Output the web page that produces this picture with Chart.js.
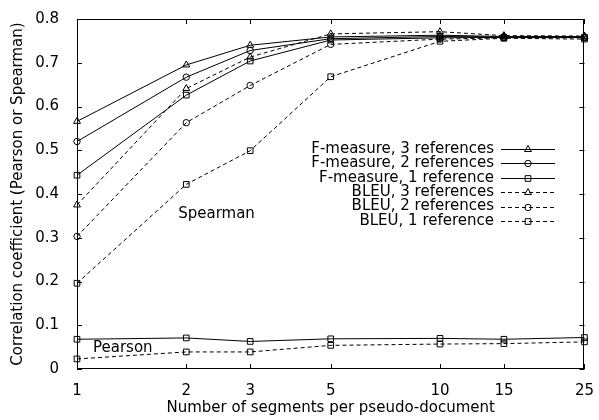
<!DOCTYPE html>
<html><head><meta charset="UTF-8"><title>Correlation coefficient vs segments per pseudo-document</title>
<style>
body { margin: 0; background: #fff; }
#wrap { width: 599px; height: 420px; }
</style>
<script src="https://cdn.jsdelivr.net/npm/chart.js"></script>
</head>
<body>
<div id="wrap"><canvas id="corrChart" width="599" height="420"></canvas></div>
<script>
// x values (number of segments per pseudo-document), log spaced on the axis
const segments = [1, 2, 3, 5, 10, 15, 25];
const yTickValues = [0, 0.1, 0.2, 0.3, 0.4, 0.5, 0.6, 0.7, 0.8];

// Spearman correlations
const fmeasure3 = [0.566, 0.695, 0.740, 0.759, 0.763, 0.760, 0.760];
const fmeasure2 = [0.520, 0.667, 0.728, 0.755, 0.760, 0.759, 0.759];
const fmeasure1 = [0.443, 0.626, 0.704, 0.752, 0.757, 0.758, 0.758];
const bleu3 = [0.375, 0.641, 0.713, 0.766, 0.771, 0.762, 0.761];
const bleu2 = [0.303, 0.563, 0.648, 0.742, 0.754, 0.757, 0.757];
const bleu1 = [0.196, 0.422, 0.499, 0.668, 0.749, 0.756, 0.754];

// Pearson correlations (1 reference)
const pearsonF1 = [0.068, 0.071, 0.063, 0.069, 0.070, 0.068, 0.072];
const pearsonB1 = [0.023, 0.039, 0.039, 0.054, 0.057, 0.058, 0.062];

const legendLabels = [
    'F-measure, 3 references',
    'F-measure, 2 references',
    'F-measure, 1 reference',
    'BLEU, 3 references',
    'BLEU, 2 references',
    'BLEU, 1 reference'
];

const DASH = [4, 3];

function serie(values, dashed, marker, label) {
    return {
        label: label,
        data: segments.map((s, i) => ({ x: s, y: values[i] })),
        borderColor: '#000',
        borderWidth: 1,
        borderDash: dashed ? DASH : [],
        pointStyle: marker,
        pointRadius: marker === 'circle' ? 3.2 : 4,
        pointBorderWidth: 1,
        pointBorderColor: '#000',
        pointBackgroundColor: 'rgba(0,0,0,0)',
        fill: false,
        clip: false,
        inLegend: !!label
    };
}

Chart.defaults.font.family = '"DejaVu Sans", sans-serif';
Chart.defaults.font.size = 15;
Chart.defaults.color = '#000';

// box, inward ticks on all four sides, free labels and the key
const framePlugin = {
    id: 'frame',
    afterDraw(chart) {
        const ctx = chart.ctx;
        const a = chart.chartArea;
        const xs = chart.scales.x, ys = chart.scales.y;
        const tl = 5;
        ctx.save();
        ctx.strokeStyle = '#000';
        ctx.lineWidth = 1;
        ctx.setLineDash([]);
        ctx.strokeRect(Math.round(a.left) + 0.5, Math.round(a.top) + 0.5,
            Math.round(a.right - a.left) - 1, Math.round(a.bottom - a.top) - 1);
        ctx.beginPath();
        segments.forEach(v => {
            const px = Math.round(xs.getPixelForValue(v)) + 0.5;
            ctx.moveTo(px, a.bottom); ctx.lineTo(px, a.bottom - tl);
            ctx.moveTo(px, a.top); ctx.lineTo(px, a.top + tl);
        });
        yTickValues.forEach(v => {
            const py = Math.round(ys.getPixelForValue(v)) + 0.5;
            ctx.moveTo(a.left, py); ctx.lineTo(a.left + tl, py);
            ctx.moveTo(a.right, py); ctx.lineTo(a.right - tl, py);
        });
        ctx.stroke();

        // text labels inside the plot
        ctx.fillStyle = '#000';
        ctx.font = '15px "DejaVu Sans", sans-serif';
        ctx.textBaseline = 'middle';
        ctx.textAlign = 'left';
        ctx.fillText('Spearman', xs.getPixelForValue(1.9), ys.getPixelForValue(0.354));
        ctx.fillText('Pearson', xs.getPixelForValue(1.107), ys.getPixelForValue(0.048));

        // key
        const keyRight = 494, rowTop = 149, rowStep = 14.4;
        const lineStart = 501, lineEnd = 555, markX = 528;
        let row = 0;
        chart.data.datasets.forEach(ds => {
            if (!ds.inLegend) return;
            const y = rowTop + row * rowStep;
            ctx.textAlign = 'right';
            ctx.fillText(ds.label, keyRight, y);
            ctx.setLineDash(ds.borderDash);
            ctx.beginPath();
            ctx.moveTo(lineStart, Math.round(y) + 0.5);
            ctx.lineTo(lineEnd, Math.round(y) + 0.5);
            ctx.stroke();
            ctx.setLineDash([]);
            ctx.fillStyle = 'rgba(0,0,0,0)';
            Chart.helpers.drawPoint(ctx, {
                pointStyle: ds.pointStyle, radius: ds.pointRadius,
                borderWidth: 1, rotation: 0
            }, markX, Math.round(y) + 0.5);
            ctx.fillStyle = '#000';
            row++;
        });
        ctx.restore();
    }
};

const ctx = document.getElementById('corrChart').getContext('2d');
const chart = new Chart(ctx, {
    type: 'line',
    data: {
        datasets: [
            serie(fmeasure3, false, 'triangle', legendLabels[0]),
            serie(fmeasure2, false, 'circle', legendLabels[1]),
            serie(fmeasure1, false, 'rect', legendLabels[2]),
            serie(bleu3, true, 'triangle', legendLabels[3]),
            serie(bleu2, true, 'circle', legendLabels[4]),
            serie(bleu1, true, 'rect', legendLabels[5]),
            serie(pearsonF1, false, 'rect', null),
            serie(pearsonB1, true, 'rect', null)
        ]
    },
    options: {
        responsive: false,
        animation: false,
        layout: { padding: { top: 16, right: 13, left: 0, bottom: 0 } },
        plugins: {
            legend: { display: false },
            tooltip: { enabled: false }
        },
        scales: {
            x: {
                type: 'logarithmic',
                min: 1,
                max: 25,
                grid: { display: false },
                border: { display: false },
                afterBuildTicks: scale => { scale.ticks = segments.map(v => ({ value: v })); },
                afterFit: scale => { scale.height = 51; },
                ticks: {
                    autoSkip: false,
                    maxRotation: 0,
                    padding: 5,
                    callback: v => String(v)
                },
                title: {
                    display: true,
                    text: 'Number of segments per pseudo-document',
                    padding: { top: 0, bottom: 3 }
                }
            },
            y: {
                min: 0,
                max: 0.8,
                grid: { display: false },
                border: { display: false },
                afterBuildTicks: scale => { scale.ticks = yTickValues.map(v => ({ value: v })); },
                afterFit: scale => { scale.width = 77; },
                ticks: {
                    padding: 10,
                    callback: v => String(Math.round(v * 10) / 10)
                },
                title: {
                    display: true,
                    text: 'Correlation coefficient (Pearson or Spearman)',
                    padding: { top: 9, bottom: 0 }
                }
            }
        }
    },
    plugins: [framePlugin]
});
</script>
</body></html>
